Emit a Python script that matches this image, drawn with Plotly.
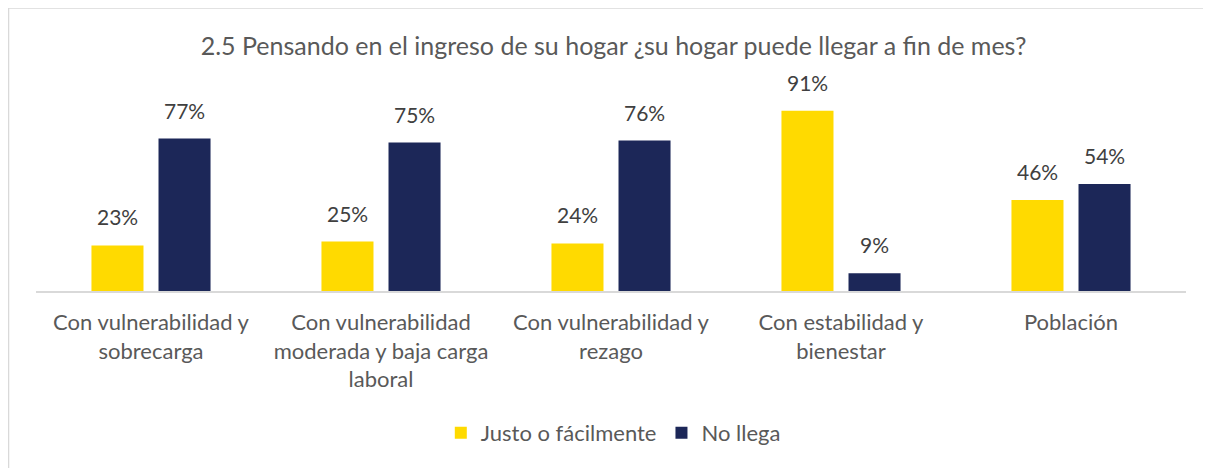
import plotly.graph_objects as go

categories = [
    "Con vulnerabilidad y<br>sobrecarga",
    "Con vulnerabilidad<br>moderada y baja carga<br>laboral",
    "Con vulnerabilidad y<br>rezago",
    "Con estabilidad y<br>bienestar",
    "Población",
]
series_names = ["Justo o fácilmente", "No llega"]
justo = [23, 25, 24, 91, 46]
no_llega = [77, 75, 76, 9, 54]
colors = ["#FFDA00", "#1C2758"]

FONT = "Lato"
GRAY = "#595959"

fig = go.Figure()
for name, vals, col in zip(series_names, [justo, no_llega], colors):
    fig.add_trace(go.Bar(
        x=categories, y=vals, name=name,
        marker=dict(color=col, line=dict(width=0)),
        cliponaxis=False,
    ))

# value labels placed above each bar (offset to each bar of the pair)
for vals, shift in zip([justo, no_llega], [-33.5, 33.5]):
    for cat, v in zip(categories, vals):
        fig.add_annotation(
            x=cat, y=v, xref="x", yref="y", text=f"{v}%", showarrow=False,
            xshift=shift, yshift=14, yanchor="bottom",
            font=dict(family=FONT, size=21, color="#404040"),
        )

fig.update_layout(
    width=1211, height=468,
    margin=dict(l=28, r=33, t=85, b=185),
    paper_bgcolor="white", plot_bgcolor="white",
    barmode="group", bargap=0.417, bargroupgap=0.224,
    title=dict(text="2.5 Pensando en el ingreso de su hogar ¿su hogar puede llegar a fin de mes?",
               x=0.5, xanchor="center", y=1 - 38 / 468, yanchor="middle",
               font=dict(family=FONT, size=25, color=GRAY)),
    xaxis=dict(showline=True, linecolor="#D9D9D9", linewidth=1.5, ticks="",
               tickfont=dict(family=FONT, size=22, color=GRAY), showgrid=False,
               ticklabelstandoff=11),
    yaxis=dict(range=[0, 100], visible=False, showgrid=False, zeroline=False),
    legend=dict(orientation="h", x=0.502, xanchor="center", y=-0.717, yanchor="middle",
                font=dict(family=FONT, size=22, color=GRAY), itemwidth=30,
                traceorder="normal"),
    showlegend=True,
    shapes=[
        dict(type="line", xref="paper", yref="paper", x0=-0.0239, x1=-0.0239, y0=1.429, y1=-0.95,
             line=dict(color="#D9D9D9", width=1.5)),
        dict(type="line", xref="paper", yref="paper", x0=-0.0239, x1=1.03, y0=1.429, y1=1.429,
             line=dict(color="#D9D9D9", width=1.5)),
    ],
)

fig.write_html("out.html")
